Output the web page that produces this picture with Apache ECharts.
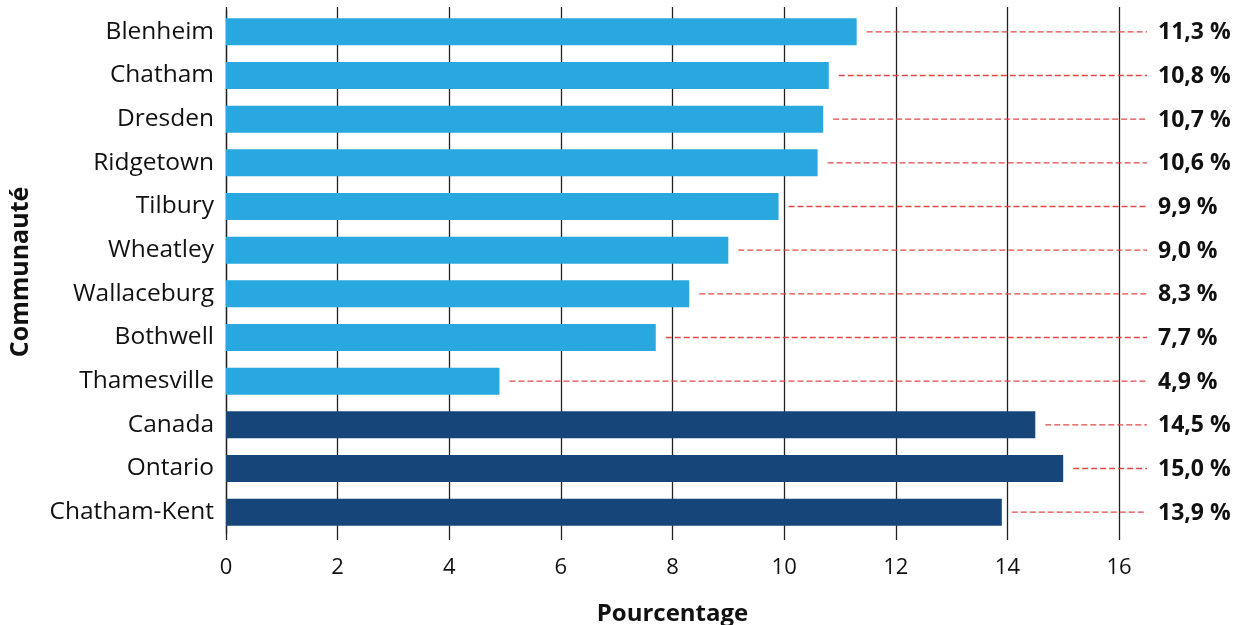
<!DOCTYPE html>
<html>
<head>
<meta charset="utf-8">
<script src="https://cdn.jsdelivr.net/npm/echarts@6/dist/echarts.min.js"></script>
<style>
  html, body { margin: 0; padding: 0; background: #fff; }
  #chart { width: 1238px; height: 625px; }
</style>
</head>
<body>
<div id="chart"></div>
<script>
// Communities, top to bottom
const communities = ['Blenheim', 'Chatham', 'Dresden', 'Ridgetown', 'Tilbury', 'Wheatley',
  'Wallaceburg', 'Bothwell', 'Thamesville', 'Canada', 'Ontario', 'Chatham-Kent'];
// Percentage per community
const percentages = [11.3, 10.8, 10.7, 10.6, 9.9, 9.0, 8.3, 7.7, 4.9, 14.5, 15.0, 13.9];
// Reference areas (drawn in dark blue)
const referenceAreas = ['Canada', 'Ontario', 'Chatham-Kent'];
// Value axis ticks
const axisMin = 0, axisMax = 16, axisStep = 2;

const LIGHT = '#29a8e0';
const DARK = '#164679';
const FONT = '"Open Sans", "Noto Sans", sans-serif';

const fmt = v => v.toFixed(1).replace('.', ',') + ' %';

const chart = echarts.init(document.getElementById('chart'), null, { renderer: 'canvas' });

const valueAxisBase = {
  type: 'value', min: axisMin, max: axisMax, interval: axisStep
};

chart.setOption({
  animation: false,
  grid: { left: 226, right: 119, top: 10, bottom: 91, containLabel: false, outerBoundsMode: 'none' },
  xAxis: [
    Object.assign({}, valueAxisBase, {
      position: 'bottom',
      name: 'Pourcentage',
      nameLocation: 'middle',
      nameGap: 68,
      nameTextStyle: { fontFamily: FONT, fontSize: 24, fontWeight: 'bold', color: '#111' },
      axisLine: { show: false },
      axisTick: { show: true, length: 6, lineStyle: { color: '#222', width: 1.3 } },
      axisLabel: { margin: 23, fontFamily: FONT, fontSize: 22, color: '#111' },
      splitLine: { show: true, lineStyle: { color: '#222', width: 1.3 } }
    }),
    Object.assign({}, valueAxisBase, {
      position: 'top',
      axisLine: { show: false },
      axisTick: { show: true, length: 3, lineStyle: { color: '#222', width: 1.3 } },
      axisLabel: { show: false },
      splitLine: { show: false }
    })
  ],
  yAxis: {
    type: 'category',
    data: communities,
    inverse: true,
    name: 'Communauté',
    nameLocation: 'middle',
    nameGap: 193,
    nameRotate: 90,
    nameTextStyle: { fontFamily: FONT, fontSize: 25, fontWeight: 'bold', color: '#111' },
    axisLine: { show: true, lineStyle: { color: '#222', width: 1.3 } },
    axisTick: { show: false },
    axisLabel: { margin: 12, fontFamily: FONT, fontSize: 24.5, color: '#111' },
    splitLine: { show: false }
  },
  series: [
    {
      type: 'bar',
      barWidth: 27,
      data: percentages.map((v, i) => ({
        value: v,
        itemStyle: { color: referenceAreas.includes(communities[i]) ? DARK : LIGHT }
      })),
      z: 3
    },
    {
      // dashed leader line from each bar end to its value label
      type: 'custom',
      z: 4,
      data: percentages.map((v, i) => [v, i]),
      renderItem: function (params, api) {
        const v = api.value(0);
        const start = api.coord([v, api.value(1)]);
        const cs = params.coordSys;
        const endX = cs.x + cs.width + 28;
        const y = start[1];
        return {
          type: 'group',
          children: [
            {
              type: 'line',
              shape: { x1: start[0] + 10, y1: y, x2: endX, y2: y },
              style: { stroke: '#e04848', lineWidth: 1.4, lineDash: [6, 3] }
            },
            {
              type: 'text',
              style: {
                x: endX + 11, y: start[1] + 1,
                text: fmt(v),
                fill: '#111',
                font: 'bold 23px ' + FONT,
                verticalAlign: 'middle', align: 'left'
              }
            }
          ]
        };
      }
    }
  ]
});
</script>
</body>
</html>
